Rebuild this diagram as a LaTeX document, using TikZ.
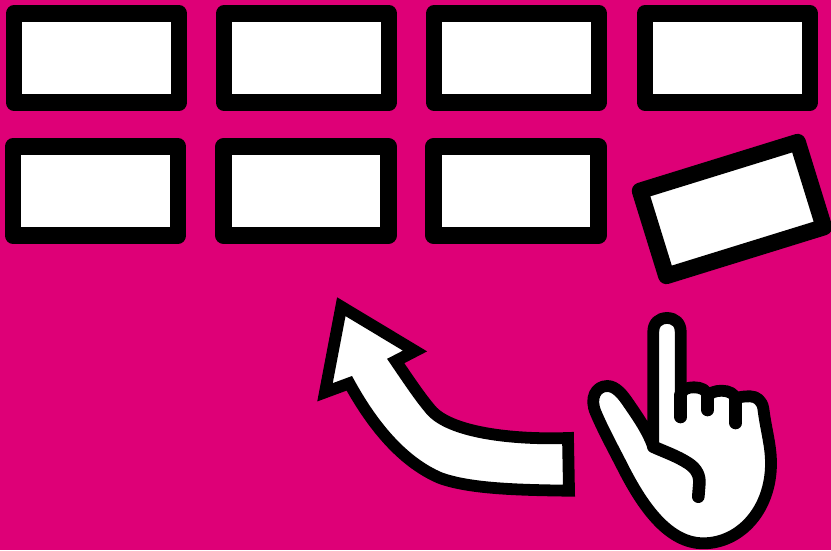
\documentclass[tikz,border=0pt]{standalone}
\definecolor{backpink}{HTML}{DE0077}
\tikzset{
  card/.style={draw=black,fill=white,line width=16.5pt,line join=round,inner sep=0pt,minimum width=165pt,minimum height=89pt},
  outline/.style={draw=black,line width=11.8pt},
  crease/.style={draw=black,line width=12.6pt,line cap=round}
}
\begin{document}
\begin{tikzpicture}[x=1pt,y=-1pt]
  \useasboundingbox (0,0) rectangle (831,550);
  \fill[backpink] (0,0) rectangle (831,550);

  \node[card] (cardA) at (96.5,58) {};
  \node[card] (cardB) at (306.5,58) {};
  \node[card] (cardC) at (516.5,58) {};
  \node[card] (cardD) at (727.5,58) {};

  \node[card] (cardE) at (95.5,191) {};
  \node[card] (cardF) at (306,191) {};
  \node[card] (cardG) at (516,191) {};
  \node[card,rotate=17.2] (cardH) at (732,209) {};

  % arrow
  \draw[outline,fill=white,line join=miter,miter limit=10] (341.3,306.7) -- (415,351) -- (395.7,361)
    .. controls (410,382) and (420,397) .. (431,410)
    .. controls (450,432) and (510,440) .. (568,438) -- (569,490.7)
    .. controls (520,490) and (470,489) .. (440,478)
    .. controls (405,463) and (375,430) .. (349.3,383.3) -- (325,392.3) -- cycle;

  % hand
  \draw[outline,fill=white,line join=round,line cap=round] (653.3,446.7) -- (653.3,331.7)
    .. controls (653.3,323) and (659,318) .. (667,318)
    .. controls (675,318) and (680.7,323) .. (680.7,331.7) -- (680.7,395)
    .. controls (682,389) and (688,387.3) .. (694,387.3)
    .. controls (701,387.3) and (707.7,390) .. (707.7,396.7)
    .. controls (709,393) and (715,390.7) .. (721.7,390.7)
    .. controls (729,390.7) and (735.7,394) .. (735.7,400)
    .. controls (737,397) and (743,396.3) .. (750,396.3)
    .. controls (757,396.3) and (762,401) .. (763.3,408.3)
    .. controls (766,430) and (771,445) .. (771,463.3)
    .. controls (771,510) and (740,543.3) .. (703.3,543.3)
    .. controls (670,543.3) and (645,510) .. (625,471.7)
    .. controls (614,450) and (604,432) .. (596,413.3)
    .. controls (589,398) and (596,386) .. (607.3,386)
    .. controls (616,386) and (623,395) .. (629,404)
    .. controls (640,420) and (648,432) .. (653.3,446.7) -- cycle;
  \draw[crease] (680.7,395) -- (680.7,417);
  \draw[crease] (707.7,396.7) -- (707.7,410);
  \draw[crease] (735.7,400) -- (735.7,423);
  \draw[crease] (653.3,446.7) .. controls (665,452) and (677,456) .. (688.3,463.3)
    .. controls (697,469) and (700,476) .. (699.3,484) -- (698.3,496.7);
\end{tikzpicture}
\end{document}
